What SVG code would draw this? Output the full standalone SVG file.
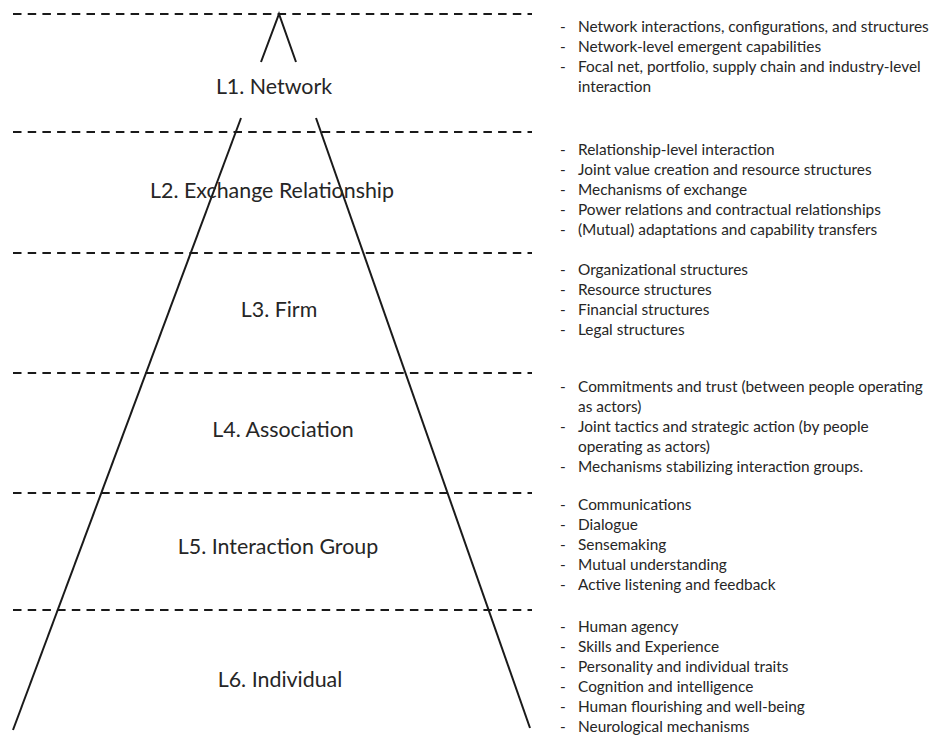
<svg xmlns="http://www.w3.org/2000/svg" width="932" height="736" viewBox="0 0 932 736">
<style>
.dash{stroke:#1a1a1a;stroke-width:2;stroke-dasharray:8.5 6.2;fill:none}
.edge{stroke:#1a1a1a;stroke-width:2;fill:none}
.lvl{font-family:Lato,"Liberation Sans",sans-serif;font-size:21.4px;fill:#262626;text-anchor:middle}
.it{font-family:Lato,"Liberation Sans",sans-serif;font-size:15.4px;fill:#262626}
</style>
<rect width="932" height="736" fill="#fff"/>
<g id="separators">
<line class="dash" x1="13" y1="14" x2="532" y2="14"/>
<line class="dash" x1="13" y1="132" x2="532" y2="132"/>
<line class="dash" x1="13" y1="253" x2="532" y2="253"/>
<line class="dash" x1="13" y1="373" x2="532" y2="373"/>
<line class="dash" x1="13" y1="493" x2="532" y2="493"/>
<line class="dash" x1="13" y1="610" x2="532" y2="610"/>
</g>
<g id="connectors">
<polyline class="edge" points="261,62 279,14 296,62"/>
<line class="edge" x1="241" y1="118" x2="13" y2="730"/>
<line class="edge" x1="316" y1="118" x2="530" y2="728"/>
</g>
<g id="L1"><text class="lvl" x="274" y="94">L1. Network</text></g>
<g id="L2"><text class="lvl" x="272" y="198">L2. Exchange Relationship</text></g>
<g id="L3"><text class="lvl" x="279" y="317">L3. Firm</text></g>
<g id="L4"><text class="lvl" x="283" y="437">L4. Association</text></g>
<g id="L5"><text class="lvl" x="278" y="554">L5. Interaction Group</text></g>
<g id="L6"><text class="lvl" x="280" y="687">L6. Individual</text></g>
<g id="D1" class="it">
<text x="560" y="32">-</text><text x="578" y="32">Network interactions, configurations, and structures</text>
<text x="560" y="52">-</text><text x="578" y="52">Network-level emergent capabilities</text>
<text x="560" y="72">-</text><text x="578" y="72">Focal net, portfolio, supply chain and industry-level</text>
<text x="578" y="92">interaction</text>
</g>
<g id="D2" class="it">
<text x="560" y="155">-</text><text x="578" y="155">Relationship-level interaction</text>
<text x="560" y="175">-</text><text x="578" y="175">Joint value creation and resource structures</text>
<text x="560" y="195">-</text><text x="578" y="195">Mechanisms of exchange</text>
<text x="560" y="215">-</text><text x="578" y="215">Power relations and contractual relationships</text>
<text x="560" y="235">-</text><text x="578" y="235">(Mutual) adaptations and capability transfers</text>
</g>
<g id="D3" class="it">
<text x="560" y="275">-</text><text x="578" y="275">Organizational structures</text>
<text x="560" y="295">-</text><text x="578" y="295">Resource structures</text>
<text x="560" y="315">-</text><text x="578" y="315">Financial structures</text>
<text x="560" y="335">-</text><text x="578" y="335">Legal structures</text>
</g>
<g id="D4" class="it">
<text x="560" y="392">-</text><text x="578" y="392">Commitments and trust (between people operating</text>
<text x="578" y="412">as actors)</text>
<text x="560" y="432">-</text><text x="578" y="432">Joint tactics and strategic action (by people</text>
<text x="578" y="452">operating as actors)</text>
<text x="560" y="472">-</text><text x="578" y="472">Mechanisms stabilizing interaction groups.</text>
</g>
<g id="D5" class="it">
<text x="560" y="510">-</text><text x="578" y="510">Communications</text>
<text x="560" y="530">-</text><text x="578" y="530">Dialogue</text>
<text x="560" y="550">-</text><text x="578" y="550">Sensemaking</text>
<text x="560" y="570">-</text><text x="578" y="570">Mutual understanding</text>
<text x="560" y="590">-</text><text x="578" y="590">Active listening and feedback</text>
</g>
<g id="D6" class="it">
<text x="560" y="632">-</text><text x="578" y="632">Human agency</text>
<text x="560" y="652">-</text><text x="578" y="652">Skills and Experience</text>
<text x="560" y="672">-</text><text x="578" y="672">Personality and individual traits</text>
<text x="560" y="692">-</text><text x="578" y="692">Cognition and intelligence</text>
<text x="560" y="712">-</text><text x="578" y="712">Human flourishing and well-being</text>
<text x="560" y="732">-</text><text x="578" y="732">Neurological mechanisms</text>
</g>
</svg>
